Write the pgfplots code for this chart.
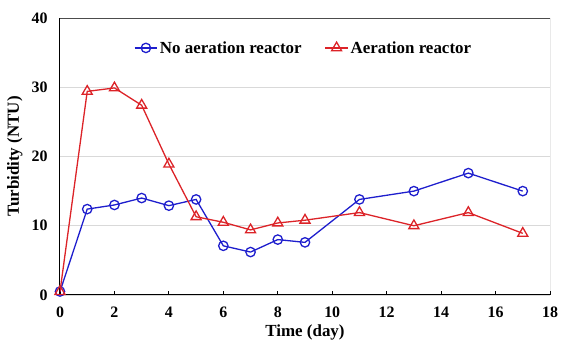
\documentclass[border=0pt]{standalone}
\usepackage{fontspec}
\setmainfont{Liberation Serif}
\usepackage{pgfplots}
\usetikzlibrary{calc}
\pgfplotsset{compat=1.18}
\definecolor{bl}{RGB}{30,30,205}
\definecolor{rd}{RGB}{220,35,40}
\begin{document}
\begin{tikzpicture}
\begin{axis}[name=ax,
  scale only axis, width=490bp, height=277bp,
  xmin=0, xmax=18, ymin=0, ymax=40,
  xtick={0,2,...,18}, ytick={0,10,...,40},
  ymajorgrids, grid style={black!15, line width=0.8bp},
  axis x line*=bottom, axis y line*=left,
  axis line style={line width=1bp, -},
  tick align=inside, ytick style={draw=none},
  xtick style={line width=0.8bp, black},
  major tick length=4bp,
  /pgf/number format/assume math mode=true,
  tick label style={font=\fontsize{16}{17}\selectfont\bfseries},
  xticklabel style={yshift=-8bp},
  yticklabel style={xshift=-9bp},
  xlabel={Time (day)}, ylabel={Turbidity (NTU)},
  label style={font=\fontsize{17}{18}\selectfont\bfseries},
  xlabel style={at={(axis description cs:0.5,-0.135)}, anchor=center},
  ylabel style={at={(axis description cs:-0.092,0.5)}, anchor=center},
  legend columns=2,
  legend style={at={(0.497,0.892)}, anchor=center, draw=none, fill=none,
    font=\fontsize{17}{18}\selectfont\bfseries,
    /tikz/every even column/.append style={column sep=21bp}},
  legend image code/.code={\draw[mark repeat=2,mark phase=2,#1,line width=1.3bp]
    plot coordinates {(0cm,0cm) (0.4cm,0cm) (0.8cm,0cm)};},
]
\addplot[bl, line width=1.3bp, mark=o, mark size=4.7bp, mark options={line width=1.3bp}] coordinates {
(0,0.5) (1,12.4) (2,13.0) (3,14.0) (4,12.9) (5,13.8) (6,7.1) (7,6.2) (8,8.0) (9,7.6) (11,13.8) (13,15.0) (15,17.6) (17,15.0)};
\addlegendentry{No aeration reactor}
\addplot[rd, line width=1.3bp, mark=triangle, mark size=5.8bp, mark options={line width=1.3bp}] coordinates {
(0,0.5) (1,29.4) (2,29.9) (3,27.4) (4,18.9) (5,11.3) (6,10.5) (7,9.4) (8,10.4) (9,10.8) (11,11.9) (13,10.0) (15,11.9) (17,8.9)};
\addlegendentry{Aeration reactor}
\draw[black!70, line width=0.8bp] (rel axis cs:0,1) -- (rel axis cs:1,1) -- (rel axis cs:1,0);
\end{axis}
\pgfresetboundingbox
\path[use as bounding box] ($(ax.south west)+(-60bp,-51bp)$) rectangle ($(ax.north east)+(11bp,18bp)$);
\end{tikzpicture}
\end{document}
